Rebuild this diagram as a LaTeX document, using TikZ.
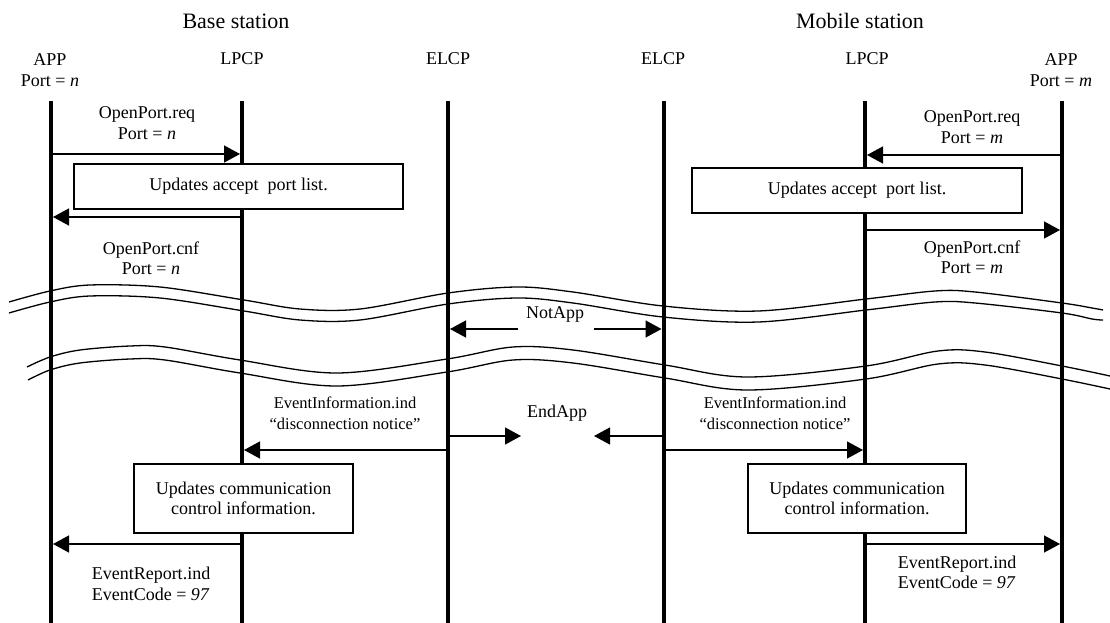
\documentclass[tikz,border=0pt]{standalone}
\usepackage{fontspec}
\setmainfont{Liberation Serif}
\usetikzlibrary{arrows.meta}
\begin{document}
\begin{tikzpicture}[x=1pt,y=-1pt,
  lifeline/.style={line width=4pt},
  msg/.style={line width=1.4pt,-{Triangle[length=16pt,width=17pt]},shorten >=2pt,shorten <=2pt},
  title/.style={font=\fontsize{22}{26}\selectfont,inner sep=0pt},
  hdr/.style={font=\fontsize{18}{20.5}\selectfont,align=center,inner sep=0pt},
  lbl/.style={font=\fontsize{18}{20.5}\selectfont,align=center,inner sep=0pt},
  smalllbl/.style={font=\fontsize{16.5}{21}\selectfont,align=center,inner sep=0pt},
  procbox/.style={draw,line width=1.2pt,fill=white,inner sep=0pt,align=center,
                  font=\fontsize{18}{20.5}\selectfont},
  wave/.style={line width=1.3pt}
]
\fill[white] (0,0) rectangle (1110,623);
\useasboundingbox (0,0) rectangle (1110,623);

% station titles
\node[title] (bs) at (236,21) {Base station};
\node[title] (ms) at (860,21) {Mobile station};

% lifeline headers
\node[hdr] (hAppL)  at (50,70)   {APP\\Port = \textit{n}};
\node[hdr] (hLpcpL) at (242,59)  {LPCP};
\node[hdr] (hElcpL) at (448,59)  {ELCP};
\node[hdr] (hElcpR) at (663,59)  {ELCP};
\node[hdr] (hLpcpR) at (867,59)  {LPCP};
\node[hdr] (hAppR)  at (1061,70) {APP\\Port = \textit{m}};

% lifeline tops and bottoms
\coordinate (appL)  at (51,101);   \coordinate (appLb)  at (51,623);
\coordinate (lpcpL) at (242,101);  \coordinate (lpcpLb) at (242,623);
\coordinate (elcpL) at (448,101);  \coordinate (elcpLb) at (448,623);
\coordinate (elcpR) at (663.5,101);\coordinate (elcpRb) at (663.5,623);
\coordinate (lpcpR) at (865,101);  \coordinate (lpcpRb) at (865,623);
\coordinate (appR)  at (1062,101); \coordinate (appRb)  at (1062,623);

% time breaks (two double wavy lines)
\draw[wave] plot[smooth,tension=0.55] coordinates {(9,302) (50,291) (90,285) (160,287) (244,300) (300,309) (360,309) (448,293) (517,287) (573,292) (663,306) (758,311) (866,299) (935,291) (975,292) (1062,303) (1092,308) (1103,310)};
\draw[wave] plot[smooth,tension=0.55] coordinates {(9,313) (50,302) (90,296) (160,298) (244,311) (300,320) (360,320) (448,304) (517,298) (573,303) (663,317) (758,322) (866,310) (935,302) (975,303) (1062,313) (1092,319) (1103,320)};
\draw[wave] plot[smooth,tension=0.55] coordinates {(27,367) (50,357) (80,350) (130,346) (165,347) (240,360) (337,373) (447,359) (513,347) (573,350) (665,365) (747,377) (866,366) (938,351) (985,352) (1062,366) (1110,376)};
\draw[wave] plot[smooth,tension=0.55] coordinates {(28,380) (50,370) (80,363) (130,359) (165,360) (240,373) (337,386) (447,372) (513,360) (573,363) (665,378) (747,390) (866,379) (938,364) (985,365) (1062,379) (1110,389)};

% lifelines
\draw[lifeline] (appL) -- (appLb);
\draw[lifeline] (lpcpL) -- (lpcpLb);
\draw[lifeline] (elcpL) -- (elcpLb);
\draw[lifeline] (elcpR) -- (elcpRb);
\draw[lifeline] (lpcpR) -- (lpcpRb);
\draw[lifeline] (appR) -- (appRb);

% message rows
\coordinate (rReqL) at (0,154);
\coordinate (rCnfL) at (0,217);
\coordinate (rReqR) at (0,155);
\coordinate (rCnfR) at (0,230);
\coordinate (rInfo) at (0,450);
\coordinate (rRep)  at (0,544);
\coordinate (notL) at (520,329);
\coordinate (notR) at (592,329);
\coordinate (endL) at (521,436);
\coordinate (endR) at (594,436);

% port opening
\draw[msg] (appL |- rReqL) -- (lpcpL |- rReqL);
\draw[msg] (lpcpL |- rCnfL) -- (appL |- rCnfL);
\draw[msg] (appR |- rReqR) -- (lpcpR |- rReqR);
\draw[msg] (lpcpR |- rCnfR) -- (appR |- rCnfR);
\node[lbl] (lReqL) at (147,123) {OpenPort.req\\Port = \textit{n}};
\node[lbl] (lCnfL) at (151,258) {OpenPort.cnf\\Port = \textit{n}};
\node[lbl] (lReqR) at (972,127) {OpenPort.req\\Port = \textit{m}};
\node[lbl] (lCnfR) at (972,257) {OpenPort.cnf\\Port = \textit{m}};
\node[procbox,minimum width=329pt,minimum height=45pt] (boxPL) at (238.5,186.5) {Updates accept\ \ port list.};
\node[procbox,minimum width=330pt,minimum height=45pt] (boxPR) at (857,190.5) {Updates accept\ \ port list.};

% NotApp / EndApp
\node[lbl] (lNot) at (555,314) {NotApp};
\draw[msg] (notL) -- (elcpL |- notL);
\draw[msg] (notR) -- (elcpR |- notR);
\node[lbl] (lEnd) at (557,413) {EndApp};
\draw[msg,shorten >=0pt] (elcpL |- endL) -- (endL);
\draw[msg,shorten >=0pt] (elcpR |- endR) -- (endR);

% disconnection notice
\node[smalllbl] (lInfoL) at (345,413.5) {EventInformation.ind\\``disconnection notice''};
\node[smalllbl] (lInfoR) at (775,413.5) {EventInformation.ind\\``disconnection notice''};
\draw[msg] (elcpL |- rInfo) -- (lpcpL |- rInfo);
\draw[msg] (elcpR |- rInfo) -- (lpcpR |- rInfo);
\node[procbox,minimum width=219pt,minimum height=69pt] (boxCL) at (243.5,498.5) {Updates communication\\control information.};
\node[procbox,minimum width=218pt,minimum height=69pt] (boxCR) at (857,498.5) {Updates communication\\control information.};

% event report
\draw[msg] (lpcpL |- rRep) -- (appL |- rRep);
\draw[msg] (lpcpR |- rRep) -- (appR |- rRep);
\node[lbl,align=left] (lRepL) at (151,584) {EventReport.ind\\EventCode = \textit{97}};
\node[lbl,align=left] (lRepR) at (957,572.5) {EventReport.ind\\EventCode = \textit{97}};
\end{tikzpicture}
\end{document}
